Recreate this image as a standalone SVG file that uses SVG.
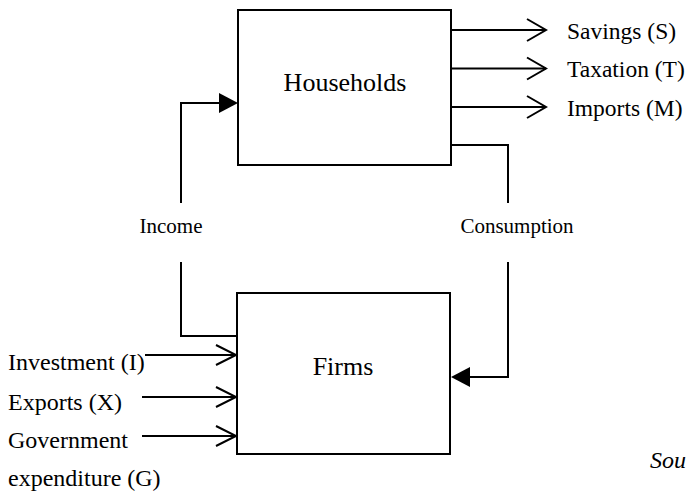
<svg xmlns="http://www.w3.org/2000/svg" width="687" height="496" viewBox="0 0 687 496">
  <style>
    .box { fill: #fff; stroke: #000; stroke-width: 2; }
    .ln { fill: none; stroke: #000; stroke-width: 2; }
    .chev { fill: none; stroke: #000; stroke-width: 2; stroke-linejoin: miter; }
    .head { fill: #000; stroke: none; }
    text { font-family: "Liberation Serif", "Times New Roman", serif; fill: #000; }
    .node { font-size: 26px; text-anchor: middle; }
    .lab { font-size: 24px; }
    .rlab { font-size: 23.5px; }
    .flow { font-size: 21px; text-anchor: middle; }
  </style>

  <g id="households">
    <rect class="box" x="238" y="10" width="213" height="155"/>
    <text class="node" x="345" y="91">Households</text>
  </g>

  <g id="firms">
    <rect class="box" x="237" y="293" width="213" height="161"/>
    <text class="node" x="343" y="375">Firms</text>
  </g>

  <g id="connectors">
    <!-- leakages out of households -->
    <path class="ln" d="M451 30 H546 M451 68.5 H546 M451 107 H546"/>
    <path class="chev" d="M527 19 L546 30 L527 41 M527 57.5 L546 68.5 L527 79.5 M527 96 L546 107 L527 118"/>
    <!-- injections into firms -->
    <path class="ln" d="M145 355 H236 M142 397 H236 M142 436 H236"/>
    <path class="chev" d="M216 345 L236 355 L216 365 M216 387 L236 397 L216 407 M216 426 L236 436 L216 446"/>
    <!-- income loop: firms to households -->
    <path class="ln" d="M237 336 H181 V262 M181 203 V103 H220"/>
    <polygon class="head" points="219,93 238,103 219,113"/>
    <!-- consumption loop: households to firms -->
    <path class="ln" d="M451 145 H508 V203 M508 262 V377 H468"/>
    <polygon class="head" points="470,367 451,377 470,387"/>
  </g>

  <g id="labels">
    <text class="flow" x="171" y="233">Income</text>
    <text class="flow" x="517" y="233">Consumption</text>
    <text class="rlab" x="567" y="39">Savings (S)</text>
    <text class="rlab" x="567" y="77">Taxation (T)</text>
    <text class="rlab" x="567" y="116">Imports (M)</text>
    <text class="lab" x="8" y="370">Investment (I)</text>
    <text class="lab" x="8" y="410">Exports (X)</text>
    <text class="lab" x="8" y="448">Government</text>
    <text class="lab" x="8" y="486">expenditure (G)</text>
    <text class="lab" x="650" y="468" font-size="25" font-style="italic">Sou</text>
  </g>
</svg>
